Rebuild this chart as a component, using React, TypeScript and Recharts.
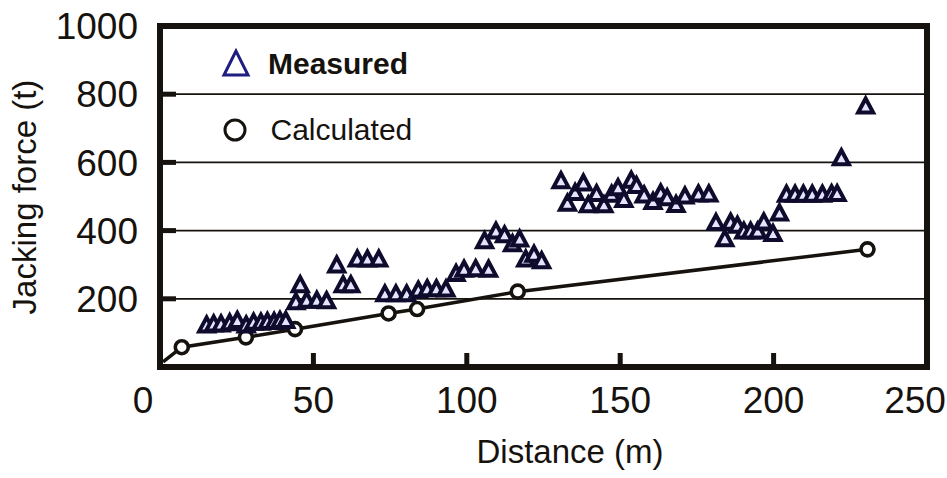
import { ComposedChart, Line, Scatter, XAxis, YAxis, CartesianGrid, Legend } from 'recharts';

const FONT = '"Liberation Sans", Arial, Helvetica, sans-serif';
const INK = '#16120e';
const NAVY = '#1f1d80';

const CHART_W = 947;
const CHART_H = 478;
const PLOT = { left: 160, top: 26, right: 20, bottom: 111 };
const PLOT_W = CHART_W - PLOT.left - PLOT.right;
const PLOT_H = CHART_H - PLOT.top - PLOT.bottom;

const xDomain = [0, 250];
const yDomain = [0, 1000];
const xTicks = [0, 50, 100, 150, 200, 250];
const xInnerTicks = [50, 100, 150, 200];
const yTicks = [200, 400, 600, 800, 1000];
const yInnerTicks = [200, 400, 600, 800];

const measuredDistance = [
  15.2, 17.5, 19.9, 22.7, 25.2, 28.1, 30.5, 32.9, 35.0, 37.2, 39.1, 41.0,
  44.3, 45.7, 47.8, 51.1, 54.3, 57.6, 59.7, 62.2, 64.3, 67.6, 71.3,
  73.3, 76.9, 80.4, 84.2, 87.1, 90.1, 93.2, 96.5, 99.1, 102.9, 107.1,
  105.8, 109.5, 112.3, 114.9, 117.2, 119.2, 121.9, 124.4,
  130.7, 132.8, 135.3, 138.0, 139.6, 142.3, 144.7, 147.2, 149.3, 151.2,
  153.6, 155.3, 157.8, 160.7, 163.2, 165.3, 168.2, 171.1, 175.5, 178.9,
  181.2, 184.1, 186.0, 188.2, 190.3, 192.5, 194.8, 196.8, 199.8, 201.9,
  204.2, 207.0, 209.7, 212.6, 215.9, 218.9, 220.7, 222.1, 230.0,
];
const measuredForce = [
  122, 125, 125, 128, 135, 122, 130, 130, 132, 132, 135, 135,
  190, 240, 194, 194, 193, 298, 240, 240, 315, 315, 315,
  213, 213, 213, 224, 228, 228, 227, 273, 285, 287, 285,
  369, 397, 386, 360, 374, 315, 329, 310,
  545, 479, 510, 538, 474, 507, 474, 505, 524, 490,
  546, 531, 503, 484, 509, 495, 475, 500, 506, 506,
  422, 375, 423, 414, 397, 397, 397, 424, 390, 450,
  505, 505, 505, 505, 505, 507, 507, 612, 764,
];

const calcDistance = [7.1, 28.0, 44.0, 74.5, 83.8, 116.6, 230.6];
const calcForce = [58, 87, 111, 157, 170, 221, 345];

// the calculated curve runs in from the lower-left corner, without a marker there
const calcStartDistance = 1;
const calcStartForce = 15;

const measured = measuredDistance.map((x, i) => ({ x, y: measuredForce[i] }));
const calculated = calcDistance.map((x, i) => ({ x, y: calcForce[i] }));
const calcLine = [{ x: calcStartDistance, y: calcStartForce }, ...calculated];

const noTick = () => <g />;

function Triangle(props: any) {
  const { cx, cy } = props;
  if (cx == null || cy == null) return null;
  return (
    <polygon
      points={`${cx},${cy - 8} ${cx - 7.5},${cy + 6} ${cx + 7.5},${cy + 6}`}
      fill="#e4e4ff"
      stroke="#0f0b2c"
      strokeWidth={4}
    />
  );
}

function OpenCircle(props: any) {
  const { cx, cy } = props;
  if (cx == null || cy == null) return null;
  return <circle cx={cx} cy={cy} r={6.5} fill="#fff" stroke={INK} strokeWidth={3.6} />;
}

function XTick(props: any) {
  const { x, y, payload } = props;
  const shift = payload.value === 0 ? -17 : payload.value === 250 ? -12 : 0;
  return (
    <text x={x + shift} y={y} dy="0.71em" textAnchor="middle" fill={INK} fontSize={37} fontFamily={FONT}>
      {payload.value}
    </text>
  );
}

const renderYLabel = () => (
  <text x={36} y={197} transform="rotate(-90 36 197)" textAnchor="middle" fill={INK} fontSize={33} fontFamily={FONT}>
    Jacking force (t)
  </text>
);

const renderXLabel = () => (
  <text x={570} y={463} textAnchor="middle" fill={INK} fontSize={33} fontFamily={FONT}>
    Distance (m)
  </text>
);

function LegendBox() {
  return (
    <svg width={230} height={110} style={{ display: 'block' }}>
      <polygon points="16,11 4,35 28,35" fill="#fff" stroke={NAVY} strokeWidth={3} />
      <text x={48} y={33.5} fontFamily={FONT} fontSize={30} fontWeight="bold" fill={INK}>
        Measured
      </text>
      <circle cx={15} cy={90} r={10} fill="#fff" stroke={INK} strokeWidth={3} />
      <text x={50.5} y={100} fontFamily={FONT} fontSize={30} fill={INK}>
        Calculated
      </text>
    </svg>
  );
}

// heavy box round the plot area, with the short inward ticks on the bottom edge
function PlotFrame() {
  const bottom = PLOT.top + PLOT_H;
  return (
    <svg
      width={CHART_W}
      height={CHART_H}
      style={{ position: 'absolute', left: 0, top: 0, pointerEvents: 'none' }}
    >
      {xInnerTicks.map((t) => {
        const x = PLOT.left + ((t - xDomain[0]) / (xDomain[1] - xDomain[0])) * PLOT_W;
        return <line key={t} x1={x} x2={x} y1={bottom} y2={bottom - 14} stroke={INK} strokeWidth={5} />;
      })}
      <rect x={PLOT.left} y={PLOT.top} width={PLOT_W} height={PLOT_H} fill="none" stroke={INK} strokeWidth={6} />
    </svg>
  );
}

export default function App() {
  return (
    <div style={{ position: 'absolute', left: 0, top: 0, width: CHART_W, height: CHART_H, background: '#fff' }}>
      <ComposedChart
        width={CHART_W}
        height={CHART_H}
        margin={{ top: PLOT.top, right: PLOT.right, bottom: 0, left: 0 }}
      >
        <CartesianGrid horizontal vertical={false} stroke={INK} strokeWidth={1.8} />
        <Legend
          layout="vertical"
          align="center"
          verticalAlign="middle"
          content={() => <LegendBox />}
          wrapperStyle={{ left: 220, top: 40, width: 230, height: 110 }}
        />
        <Line
          data={calcLine}
          dataKey="y"
          type="linear"
          stroke={INK}
          strokeWidth={3.5}
          dot={false}
          activeDot={false}
          isAnimationActive={false}
          legendType="none"
        />
        <Scatter data={calculated} dataKey="y" shape={<OpenCircle />} isAnimationActive={false} />
        <Scatter data={measured} dataKey="y" shape={<Triangle />} isAnimationActive={false} />

        <XAxis
          type="number"
          dataKey="x"
          domain={xDomain}
          ticks={xTicks}
          interval={0}
          height={PLOT.bottom}
          axisLine={false}
          tickLine={false}
          tickSize={0}
          tickMargin={20}
          tick={<XTick />}
          label={renderXLabel}
          allowDataOverflow
        />
        <YAxis
          type="number"
          dataKey="y"
          domain={yDomain}
          ticks={yTicks}
          interval={0}
          width={PLOT.left}
          axisLine={false}
          tickLine={false}
          tickSize={0}
          tickMargin={22}
          tick={{ fill: INK, fontSize: 37, fontFamily: FONT }}
          label={renderYLabel}
          allowDataOverflow
        />
        {/* inward y tick marks */}
        <YAxis yAxisId="inner" type="number" domain={yDomain} ticks={yInnerTicks} interval={0} mirror axisLine={false} tickLine={{ stroke: INK, strokeWidth: 5 }} tickSize={16} tick={noTick} allowDataOverflow />
      </ComposedChart>
      <PlotFrame />
    </div>
  );
}
